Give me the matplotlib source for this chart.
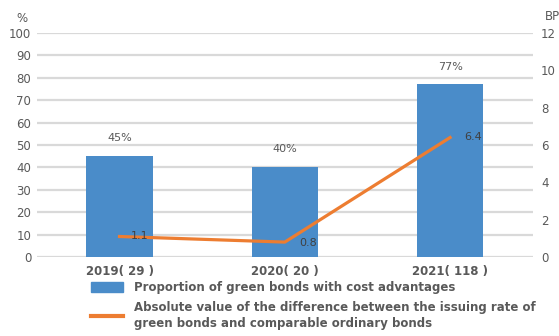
import matplotlib
matplotlib.use('Agg')
import matplotlib.pyplot as plt
import numpy as np

plt.rcParams['font.family'] = ['DejaVu Sans']

years = ['2019( 29 )', '2020( 20 )', '2021( 118 )']
share = [45, 40, 77]          # % of green bonds with cost advantages
spread = [1.1, 0.8, 6.4]      # BP difference in issuing rate
left_ticks = list(range(0, 101, 10))
right_ticks = list(range(0, 13, 2))

bar_color = '#4A8CC9'
line_color = '#ED7D31'
text_color = '#595959'

fig = plt.figure(figsize=(5.59, 3.36), dpi=100)
ax = fig.add_axes([0.066, 0.235, 0.887, 0.667])
x = np.arange(len(years))

ax.bar(x, share, width=0.4, color=bar_color, zorder=2)
for xi, v in zip(x, share):
    ax.text(xi, v + 8, '%d%%' % v, ha='center', va='center', fontsize=8, color=text_color)

ax.set_xlim(-0.5, 2.5)
ax.set_ylim(0, 100)
ax.set_yticks(left_ticks)
ax.grid(axis='y', color='#D9D9D9', linewidth=1.6, zorder=0)
ax.set_axisbelow(True)
for s in ax.spines.values():
    s.set_visible(False)
ax.tick_params(length=0, labelsize=8.5, labelcolor=text_color, pad=4)
ax.set_xticks(x)
ax.set_xticklabels(years, fontsize=8.5, fontweight='bold')
ax.tick_params(axis='x', pad=6)

ax2 = ax.twinx()
ax2.plot(x, spread, color=line_color, linewidth=2.3, zorder=3)
ax2.set_ylim(0, 12)
ax2.set_yticks(right_ticks)
for s in ax2.spines.values():
    s.set_visible(False)
ax2.tick_params(length=0, labelsize=8.5, labelcolor=text_color, pad=6)
offsets = [(0.12, 0.0), (0.14, -0.05), (0.14, 0.05)]
for xi, v, (dx, dy) in zip(x, spread, offsets):
    ax2.text(xi + dx, v + dy, '%.1f' % v, ha='center', va='center', fontsize=8, color='#404040')

fig.text(0.04, 0.945, '%', fontsize=8.5, color=text_color, ha='center', va='center')
fig.text(0.975, 0.95, 'BP', fontsize=8.5, color=text_color, ha='left', va='center')

handles = [plt.Rectangle((0, 0), 1, 1, color=bar_color),
           plt.Line2D([0], [0], color=line_color, linewidth=3)]
labels = ['Proportion of green bonds with cost advantages',
          'Absolute value of the difference between the issuing rate of\ngreen bonds and comparable ordinary bonds']
leg = fig.legend(handles, labels, loc='upper left', bbox_to_anchor=(0.163, 0.163),
                 frameon=False, handlelength=2.7, handleheight=0.9, handletextpad=0.9,
                 labelspacing=0.6, borderaxespad=0, borderpad=0,
                 prop={'size': 8.5, 'weight': 'bold'})
for t in leg.get_texts():
    t.set_color(text_color)
    t.set_linespacing(1.25)

fig.savefig('out.png', dpi=100)
